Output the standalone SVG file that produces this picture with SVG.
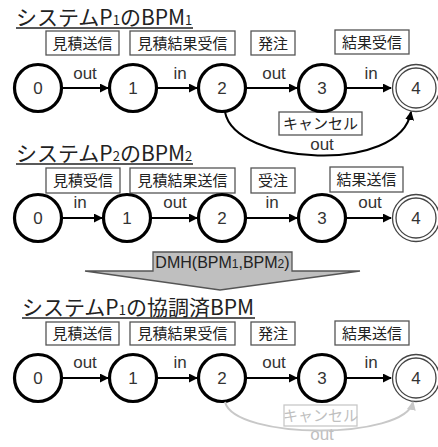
<svg xmlns="http://www.w3.org/2000/svg" width="438" height="447" viewBox="0 0 438 447">
<defs>
<style>
.title{font-family:"Noto Sans CJK JP","Liberation Sans",sans-serif;font-size:21px;fill:#222}
.sub{font-size:13px}
.uline{stroke:#222;stroke-width:1.4}
.box rect{fill:#fff;stroke:#555;stroke-width:1.3}
.box text{font-family:"Noto Sans CJK JP",sans-serif;font-size:15px;fill:#222;text-anchor:middle}
.st circle{fill:#fff;stroke:#000;stroke-width:3.2}
.st text,.fin text{font-family:"Liberation Sans",Arial,sans-serif;font-size:17px;fill:#333;text-anchor:middle}
.fin circle{fill:#fff;stroke:#444;stroke-width:1.3}
.edge{stroke:#000;stroke-width:2;fill:none;marker-end:url(#ah)}
.lbl{font-family:"Liberation Sans",Arial,sans-serif;font-size:17px;fill:#333;text-anchor:middle}
.ghost{stroke:#c8c8c8;stroke-width:2;fill:none;marker-end:url(#ahg)}
.gbox rect{fill:#fff;stroke:#c8c8c8;stroke-width:1.3}
.gbox text{font-family:"Noto Sans CJK JP",sans-serif;font-size:15px;fill:#c0c0c0;text-anchor:middle}
.glbl{font-family:"Liberation Sans",Arial,sans-serif;font-size:17px;fill:#c0c0c0;text-anchor:middle}
</style>
<marker id="ah" viewBox="0 0 10 10" refX="9" refY="5" markerWidth="4.5" markerHeight="4.5" orient="auto" markerUnits="strokeWidth">
<path d="M0,0 L10,5 L0,10 z" fill="#000"/>
</marker>
<marker id="ahg" viewBox="0 0 10 10" refX="9" refY="5" markerWidth="4.5" markerHeight="4.5" orient="auto" markerUnits="strokeWidth">
<path d="M0,0 L10,5 L0,10 z" fill="#c8c8c8"/>
</marker>
</defs>
<rect width="438" height="447" fill="#fff"/>

<!-- Section 1 -->
<g id="title1">
<text class="title" x="16" y="25">システムP<tspan class="sub">1</tspan>のBPM<tspan class="sub">1</tspan></text>
<line class="uline" x1="16" y1="28" x2="193" y2="28"/>
</g>
<g id="r1-box1" class="box"><rect x="46" y="31" width="73" height="24"/><text x="82.5" y="49">見積送信</text></g>
<g id="r1-box2" class="box"><rect x="130" y="31" width="105" height="24"/><text x="182.5" y="49">見積結果受信</text></g>
<g id="r1-box3" class="box"><rect x="251" y="31" width="44" height="24"/><text x="273" y="49">発注</text></g>
<g id="r1-box4" class="box"><rect x="335" y="30" width="74" height="24"/><text x="372" y="48">結果受信</text></g>
<g id="r1-box5" class="box"><rect x="279" y="112" width="83" height="23"/><text x="320.5" y="129">キャンセル</text></g>

<g id="r1-s0" class="st"><circle cx="38" cy="88" r="23.5"/><text x="38" y="94">0</text></g>
<g id="r1-s1" class="st"><circle cx="133" cy="88" r="23.5"/><text x="133" y="94">1</text></g>
<g id="r1-s2" class="st"><circle cx="222" cy="88" r="23.5"/><text x="222" y="94">2</text></g>
<g id="r1-s3" class="st"><circle cx="322" cy="88" r="23.5"/><text x="322" y="94">3</text></g>
<g id="r1-s4" class="fin"><circle cx="416" cy="88" r="23.5"/><circle cx="416" cy="88" r="20"/><text x="416" y="94">4</text></g>

<!-- Section 2 -->
<g id="title2">
<text class="title" x="16" y="161">システムP<tspan class="sub">2</tspan>のBPM<tspan class="sub">2</tspan></text>
<line class="uline" x1="16" y1="164" x2="193" y2="164"/>
</g>
<g id="r2-box1" class="box"><rect x="46" y="168" width="74" height="25"/><text x="83" y="186">見積受信</text></g>
<g id="r2-box2" class="box"><rect x="130" y="168" width="105" height="25"/><text x="182.5" y="186">見積結果送信</text></g>
<g id="r2-box3" class="box"><rect x="251" y="168" width="44" height="25"/><text x="273" y="186">受注</text></g>
<g id="r2-box4" class="box"><rect x="330" y="167" width="73" height="25"/><text x="366.5" y="185">結果送信</text></g>

<g id="r2-s0" class="st"><circle cx="38" cy="218" r="23.5"/><text x="38" y="224">0</text></g>
<g id="r2-s1" class="st"><circle cx="127" cy="218" r="23.5"/><text x="127" y="224">1</text></g>
<g id="r2-s2" class="st"><circle cx="222" cy="218" r="23.5"/><text x="222" y="224">2</text></g>
<g id="r2-s3" class="st"><circle cx="322" cy="218" r="23.5"/><text x="322" y="224">3</text></g>
<g id="r2-s4" class="fin"><circle cx="416" cy="218" r="23.5"/><circle cx="416" cy="218" r="20"/><text x="416" y="224">4</text></g>

<!-- DMH arrow -->
<g id="dmh">
<path d="M153,252 H292 V271 H360 L220,290 L85,271 H153 Z" fill="#bfbfbf" stroke="#555" stroke-width="1.3"/>
<text x="222.5" y="268" font-family="'Liberation Sans',Arial,sans-serif" font-size="16" fill="#222" text-anchor="middle">DMH(BPM<tspan font-size="12">1</tspan>,BPM<tspan font-size="12">2</tspan>)</text>
</g>

<!-- Section 3 -->
<g id="title3">
<text class="title" x="22" y="315">システムP<tspan class="sub">1</tspan>の協調済BPM</text>
<line class="uline" x1="22" y1="318" x2="255" y2="318"/>
</g>
<g id="r3-box1" class="box"><rect x="46" y="322" width="73" height="23"/><text x="82.5" y="339">見積送信</text></g>
<g id="r3-box2" class="box"><rect x="130" y="322" width="105" height="23"/><text x="182.5" y="339">見積結果受信</text></g>
<g id="r3-box3" class="box"><rect x="251" y="322" width="44" height="23"/><text x="273" y="339">発注</text></g>
<g id="r3-box4" class="box"><rect x="335" y="321" width="74" height="24"/><text x="372" y="339">結果送信</text></g>
<g id="r3-box5" class="gbox"><rect x="284" y="405" width="73" height="21"/><text x="320.5" y="421">キャンセル</text></g>

<g id="r3-s0" class="st"><circle cx="38" cy="378" r="23.5"/><text x="38" y="384">0</text></g>
<g id="r3-s1" class="st"><circle cx="133" cy="378" r="23.5"/><text x="133" y="384">1</text></g>
<g id="r3-s2" class="st"><circle cx="222" cy="378" r="23.5"/><text x="222" y="384">2</text></g>
<g id="r3-s3" class="st"><circle cx="322" cy="378" r="23.5"/><text x="322" y="384">3</text></g>
<g id="r3-s4" class="fin"><circle cx="416" cy="378" r="23.5"/><circle cx="416" cy="378" r="20"/><text x="416" y="384">4</text></g>

<!-- Connectors -->
<g id="connectors">
<line class="edge" x1="62" y1="88" x2="108" y2="88"/>
<line class="edge" x1="157" y1="88" x2="197" y2="88"/>
<line class="edge" x1="246" y1="88" x2="297" y2="88"/>
<line class="edge" x1="346" y1="88" x2="391" y2="88"/>
<path class="edge" d="M225,112 C235,165 400,175 411,112"/>

<line class="edge" x1="62" y1="218" x2="102" y2="218"/>
<line class="edge" x1="151" y1="218" x2="197" y2="218"/>
<line class="edge" x1="246" y1="218" x2="297" y2="218"/>
<line class="edge" x1="346" y1="218" x2="391" y2="218"/>

<line class="edge" x1="62" y1="378" x2="108" y2="378"/>
<line class="edge" x1="157" y1="378" x2="197" y2="378"/>
<line class="edge" x1="246" y1="378" x2="297" y2="378"/>
<line class="edge" x1="346" y1="378" x2="391" y2="378"/>
<path class="ghost" d="M225,402 C235,440 405,440 413,402"/>

<text class="lbl" x="85" y="79">out</text>
<text class="lbl" x="180" y="79">in</text>
<text class="lbl" x="274" y="79">out</text>
<text class="lbl" x="371" y="79">in</text>
<text class="lbl" x="322" y="150">out</text>

<text class="lbl" x="80" y="208">in</text>
<text class="lbl" x="175" y="208">out</text>
<text class="lbl" x="272" y="208">in</text>
<text class="lbl" x="370" y="208">out</text>

<text class="lbl" x="85" y="368">out</text>
<text class="lbl" x="180" y="368">in</text>
<text class="lbl" x="274" y="368">out</text>
<text class="lbl" x="371" y="368">in</text>
<text class="glbl" x="322" y="440">out</text>
</g>
</svg>
